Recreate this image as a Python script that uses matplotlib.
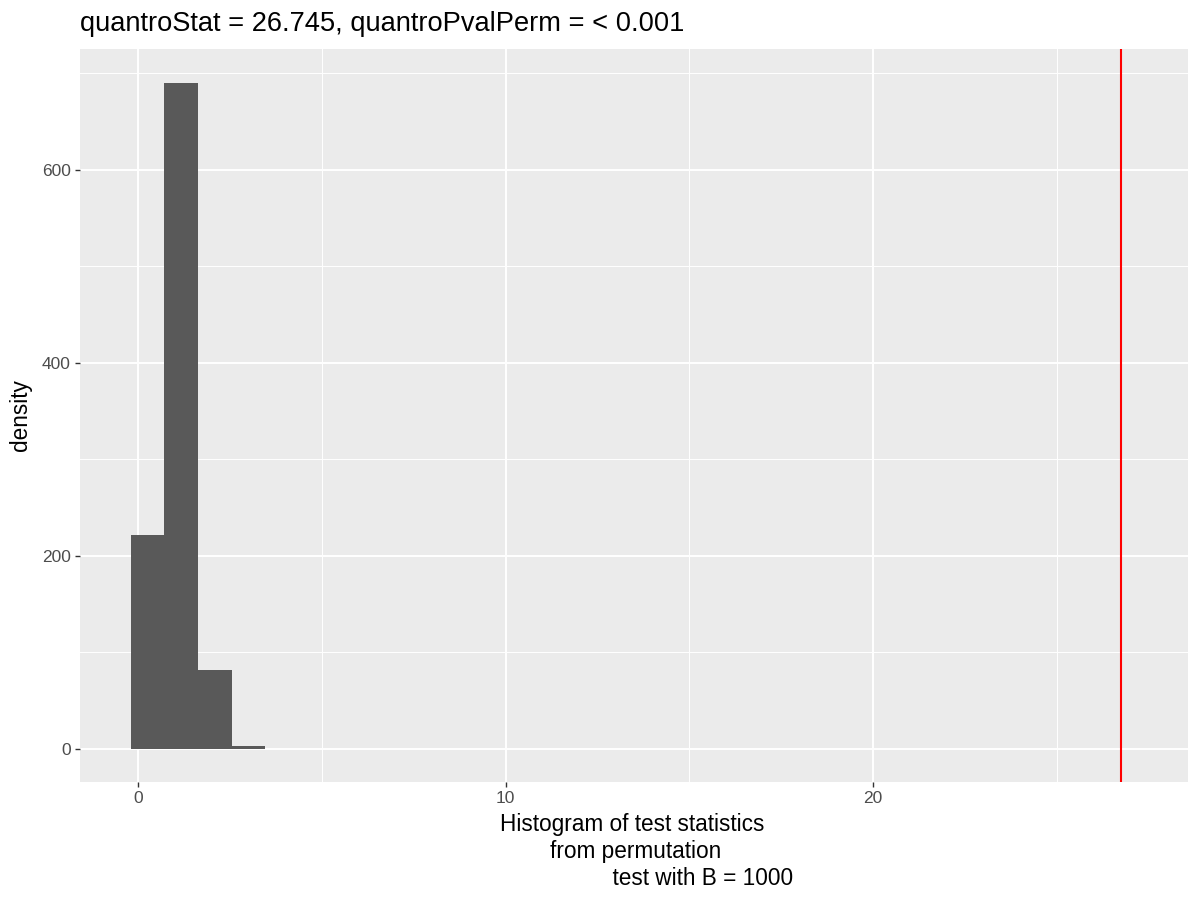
import matplotlib.pyplot as plt
import numpy as np
from matplotlib.ticker import MultipleLocator

plt.rcParams['font.family'] = ['Liberation Sans', 'DejaVu Sans']

# histogram of permutation test statistics
bin_edges = [-0.2, 0.713, 1.626, 2.539, 3.452]
density = [222, 690, 81.5, 3.5]
quantro_stat = 26.745
title = "quantroStat = 26.745, quantroPvalPerm = < 0.001"
xlab = ("Histogram of test statistics\n"
        "        from permutation\n"
        "                  test with B = 1000")

fig = plt.figure(figsize=(12, 9), dpi=100)
ax = fig.add_axes([80/1200, 1 - 781.7/900, 1108.3/1200, 733/900])
ax.set_facecolor('#EBEBEB')

edges = np.array(bin_edges)
ax.bar(edges[:-1], density, width=np.diff(edges), align='edge',
       color='#595959', zorder=3)
ax.axvline(quantro_stat, color='red', lw=1.5, zorder=4)

ax.set_xlim(-1.587, 28.58)
ax.set_ylim(-33.9, 725.2)
ax.xaxis.set_major_locator(MultipleLocator(10))
ax.xaxis.set_minor_locator(MultipleLocator(5))
ax.yaxis.set_major_locator(MultipleLocator(200))
ax.yaxis.set_minor_locator(MultipleLocator(100))
ax.grid(which='major', color='white', lw=1.4, zorder=1)
ax.grid(which='minor', color='white', lw=0.7, zorder=1)
ax.set_axisbelow(True)
for s in ax.spines.values():
    s.set_visible(False)
ax.tick_params(which='major', length=3.7, width=1, color='#333333',
               labelsize=12.5, labelcolor='#4D4D4D', pad=3)
ax.tick_params(which='minor', length=0)

ax.set_title(title, loc='left', fontsize=19.6, pad=12.7)
ax.set_ylabel('density', fontsize=16.3, labelpad=7)
ax.set_xlabel(xlab, fontsize=16.3, linespacing=1.22)
ax.xaxis.label.set_horizontalalignment('left')
ax.xaxis.label.set_verticalalignment('top')
ax.xaxis.set_label_coords((500 - 80) / 1108.3, (781.7 - 813) / 733)

fig.savefig('out.png', dpi=100)
